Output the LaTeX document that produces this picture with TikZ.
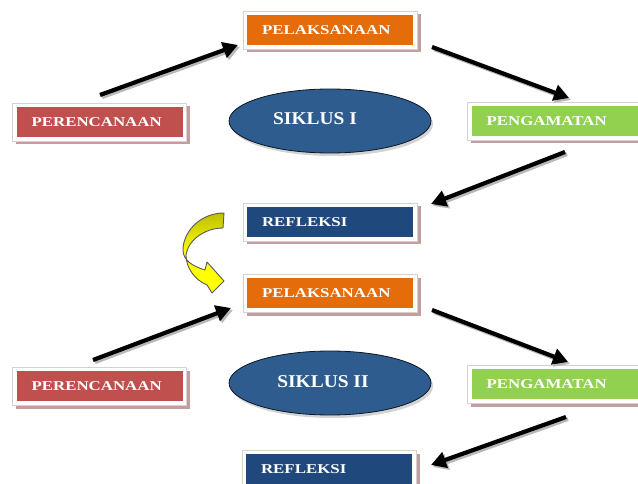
\documentclass[tikz,border=0pt]{standalone}
\usepackage{fontspec}
\setmainfont{Liberation Serif}
\newfontfamily\boxfont[FakeStretch=1.25]{Liberation Serif}
\newfontfamily\ellfont[FakeStretch=1.08]{Liberation Serif}
\usetikzlibrary{shadows,arrows.meta,shapes.geometric}
\definecolor{orangeB}{HTML}{E46C0A}
\definecolor{redB}{HTML}{C0504D}
\definecolor{greenB}{HTML}{92D050}
\definecolor{blueB}{HTML}{1F497D}
\definecolor{ellB}{HTML}{2F5C8E}
\definecolor{shadowc}{HTML}{BE9494}
\definecolor{arrowY}{HTML}{FFFF00}
\tikzset{
  boxfr/.style={rectangle, minimum width=174pt, minimum height=38pt, inner sep=0pt,
    fill=white, draw=gray!35, line width=0.6pt,
    drop shadow={shadow xshift=3.5pt, shadow yshift=-3.5pt, fill=shadowc, opacity=0.9},
    path picture={\fill[#1] ([shift={(4pt,4pt)}]path picture bounding box.south west) rectangle ([shift={(-4pt,-4pt)}]path picture bounding box.north east);},
    text=white, font=\boxfont\bfseries\fontsize{13.5}{16}\selectfont,
    align=left, text width=136pt},
  ellnode/.style={ellipse, minimum width=202pt, minimum height=64pt, inner sep=0pt,
    fill=ellB, draw=black!75!ellB, line width=0.8pt,
    drop shadow={shadow xshift=2pt, shadow yshift=-3pt, fill=gray, opacity=0.35}},
  elltext/.style={text=white, font=\ellfont\bfseries\fontsize{18}{20}\selectfont, inner sep=0pt},
  flow/.style={line width=4.2pt, -{Triangle[length=15pt,width=16pt]}},
  flowsh/.style={flow, draw=gray!55, transform canvas={shift={(2pt,-2pt)}}},
  curvy/.style={top color=yellow!75!black, bottom color=arrowY, middle color=arrowY,
    draw=black!65, line width=0.9pt, line join=round}
}
\begin{document}
\begin{tikzpicture}[x=1pt,y=-1pt]
\useasboundingbox (0,0) rectangle (638,484);
\clip (0,0) rectangle (638,484);

% boxes
\node[boxfr=orangeB] (pel1) at (330,30) {PELAKSANAAN};
\node[boxfr=redB] (per1) at (99.5,122) {PERENCANAAN};
\node[boxfr=greenB] (peng1) at (554.5,121) {PENGAMATAN};
\node[boxfr=blueB] (ref1) at (330,222) {REFLEKSI};
\node[boxfr=orangeB] (pel2) at (330,293) {PELAKSANAAN};
\node[boxfr=redB] (per2) at (99.5,386) {PERENCANAAN};
\node[boxfr=greenB] (peng2) at (554.5,384) {PENGAMATAN};
\node[boxfr=blueB] (ref2) at (329,469) {REFLEKSI};

% ellipses
\node[ellnode] (s1) at (330,121) {};
\node[elltext] (s1t) at (315,119) {SIKLUS I};
\node[ellnode] (s2) at (330,383) {};
\node[elltext] (s2t) at (323,382) {SIKLUS II};

% arrow end points
\coordinate (a1s) at (100,95);  \coordinate (a1e) at (238,45);
\coordinate (a2s) at (432,47);  \coordinate (a2e) at (569,98);
\coordinate (a3s) at (565,152); \coordinate (a3e) at (431,204);
\coordinate (a4s) at (93,360);  \coordinate (a4e) at (231,308);
\coordinate (a5s) at (432,310); \coordinate (a5e) at (568,362);
\coordinate (a6s) at (566,417); \coordinate (a6e) at (431,465);

\foreach \s/\e in {a1s/a1e, a2s/a2e, a3s/a3e, a4s/a4e, a5s/a5e, a6s/a6e}
  \draw[flowsh] (\s) -- (\e);
\foreach \s/\e in {a1s/a1e, a2s/a2e, a3s/a3e, a4s/a4e, a5s/a5e, a6s/a6e}
  \draw[flow] (\s) -- (\e);

% curved yellow arrow
\draw[curvy] (224,213) .. controls (200,213) and (183,232) .. (183,250)
  .. controls (183,260) and (192,266) .. (205,270)
  -- (207,262) -- (224,281) -- (212,293) -- (207,285)
  .. controls (195,280) and (186,268) .. (186,255)
  .. controls (188,240) and (205,228) .. (223,228) -- cycle;
\end{tikzpicture}
\end{document}
